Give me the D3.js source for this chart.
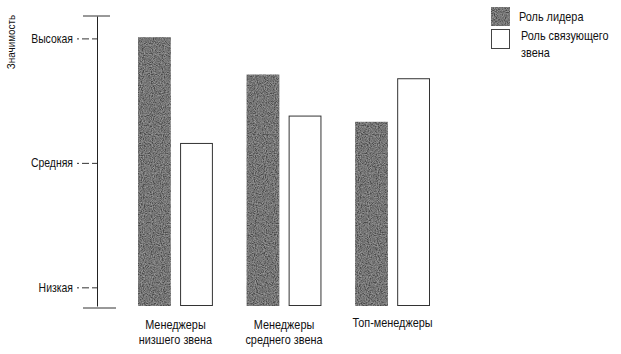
<!DOCTYPE html>
<html>
<head>
<meta charset="utf-8">
<script src="https://cdn.jsdelivr.net/npm/d3@7"></script>
<style>
  body { margin: 0; background: #fff; }
  svg text { font-family: "Liberation Sans", Arial, sans-serif; fill: #111; }
</style>
</head>
<body>
<div id="chart"></div>
<script>
// data
const categories = [['Менеджеры', 'низшего звена'], ['Менеджеры', 'среднего звена'], ['Топ-менеджеры']];
const seriesNames = ['Роль лидера', 'Роль связующего звена'];
const leaderValues = [3.01, 2.71, 2.33];
const linkValues = [2.16, 2.38, 2.68];
const levelValues = [1, 2, 3];
const levelLabels = ['Низкая', 'Средняя', 'Высокая'];

const width = 621;
const height = 354;
const squeeze = 0.87; // the original type is a narrow grotesque

const svg = d3.select('#chart').append('svg')
  .attr('width', width)
  .attr('height', height);

const narrow = (x, y) => `translate(${x},${y}) scale(${squeeze},1)`;

const defs = svg.append('defs');
const noise = defs.append('filter')
  .attr('id', 'grain')
  .attr('x', 0).attr('y', 0).attr('width', 1).attr('height', 1);
noise.append('feTurbulence')
  .attr('type', 'fractalNoise')
  .attr('baseFrequency', 0.9)
  .attr('numOctaves', 2)
  .attr('seed', 4)
  .attr('result', 'n');
noise.append('feColorMatrix')
  .attr('in', 'n')
  .attr('type', 'matrix')
  .attr('values', '0 0 0 0 0.38  0 0 0 0 0.38  0 0 0 0 0.38  1.5 0 0 0 -0.4')
  .attr('result', 'g');
noise.append('feComposite')
  .attr('in', 'g')
  .attr('in2', 'SourceGraphic')
  .attr('operator', 'atop');

const y = d3.scaleLinear().domain([0.85, 3.18]).range([306, 16]);

const x0 = d3.scaleBand()
  .domain(categories.map((d, i) => i))
  .range([138, 430])
  .paddingInner(0.31)
  .paddingOuter(0);

const x1 = d3.scaleBand()
  .domain([0, 1])
  .range([0, x0.bandwidth()])
  .paddingInner(0.22);

// y axis
const axisX = 97;
const yAxis = d3.axisLeft(y)
  .tickValues(levelValues)
  .tickFormat((d, i) => levelLabels[i])
  .tickSize(20)
  .tickSizeOuter(0)
  .tickPadding(4);

const ag = svg.append('g')
  .attr('transform', `translate(${axisX},0)`)
  .call(yAxis);
ag.select('.domain').attr('stroke', '#222').attr('stroke-width', 1);
ag.selectAll('.tick line')
  .attr('stroke', '#333')
  .attr('stroke-dasharray', '5,3,7,3')
  .attr('x2', -20);
ag.selectAll('.tick text')
  .style('font-size', '12px')
  .attr('fill', '#111')
  .attr('transform', function () { return narrow(+this.getAttribute('x'), 0); })
  .attr('x', 0);

// end caps
svg.append('line')
  .attr('x1', 83).attr('x2', 110)
  .attr('y1', y.range()[1]).attr('y2', y.range()[1])
  .attr('stroke', '#333');
svg.append('line')
  .attr('x1', 83).attr('x2', 116)
  .attr('y1', y.range()[0] + 2).attr('y2', y.range()[0] + 2)
  .attr('stroke', '#333');

svg.append('text')
  .attr('transform', 'translate(15,42) rotate(-90) scale(0.9,1)')
  .attr('text-anchor', 'middle')
  .style('font-size', '11px')
  .text('Значимость');

// bars
const groups = svg.append('g').selectAll('g')
  .data(categories)
  .join('g')
  .attr('transform', (d, i) => `translate(${x0(i)},0)`);

groups.append('rect')
  .attr('x', x1(0))
  .attr('width', x1.bandwidth())
  .attr('y', (d, i) => y(leaderValues[i]))
  .attr('height', (d, i) => y(0.85) - y(leaderValues[i]))
  .attr('fill', '#4a4a4a')
  .attr('filter', 'url(#grain)');

groups.append('rect')
  .attr('x', x1(1) + 0.5)
  .attr('width', x1.bandwidth() - 1)
  .attr('y', (d, i) => y(linkValues[i]) + 0.5)
  .attr('height', (d, i) => y(0.85) - y(linkValues[i]) - 1)
  .attr('fill', '#fff')
  .attr('stroke', '#333')
  .attr('stroke-width', 1);

// category labels
groups.append('text')
  .attr('transform', (d, i) => narrow(x0.bandwidth() / 2, i === 2 ? 327 : 329))
  .attr('text-anchor', 'middle')
  .style('font-size', '12.5px')
  .selectAll('tspan')
  .data(d => d)
  .join('tspan')
  .attr('x', 0)
  .attr('dy', (d, i) => i === 0 ? 0 : 15)
  .text(d => d);

// legend
const legend = svg.append('g').attr('transform', 'translate(491,7)');
legend.append('rect')
  .attr('width', 19).attr('height', 19)
  .attr('fill', '#4a4a4a')
  .attr('filter', 'url(#grain)');
legend.append('rect')
  .attr('x', 0.5).attr('y', 22.5)
  .attr('width', 18).attr('height', 19)
  .attr('fill', '#fff')
  .attr('stroke', '#444');
legend.append('text')
  .attr('transform', narrow(28, 14))
  .style('font-size', '12.5px')
  .text(seriesNames[0]);
legend.append('text')
  .attr('transform', narrow(30, 33))
  .style('font-size', '12.5px')
  .text('Роль связующего')
  .append('tspan')
  .attr('x', 0).attr('dy', 17)
  .text('звена');
</script>
</body>
</html>
